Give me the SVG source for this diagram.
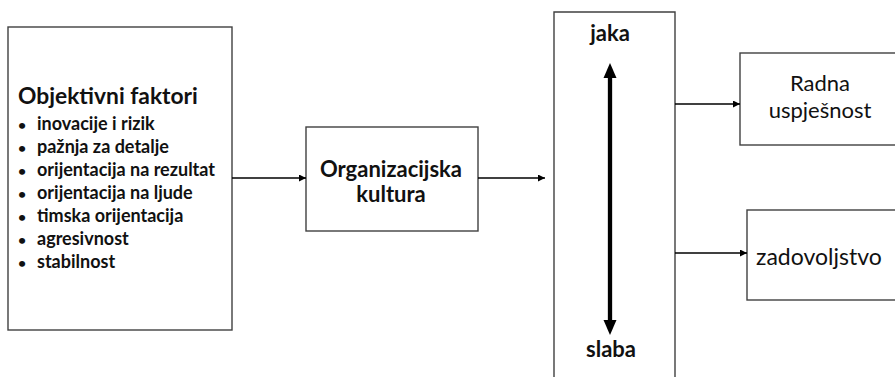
<svg xmlns="http://www.w3.org/2000/svg" width="895" height="377" viewBox="0 0 895 377">
<defs>
<style>
.box{fill:#fff;stroke:#404040;stroke-width:1.4}
.con{stroke:#000;stroke-width:1.3;fill:none}
.b{font-family:Lato,"Open Sans","Liberation Sans",sans-serif;font-weight:bold;fill:#111}
.r{font-family:Lato,"Open Sans","Liberation Sans",sans-serif;fill:#111}
</style>
<marker id="ah" viewBox="0 0 10 10" refX="10" refY="5" markerWidth="7" markerHeight="7" markerUnits="userSpaceOnUse" orient="auto">
<path d="M0,0 L10,5 L0,10 z" fill="#000"/>
</marker>
</defs>
<rect width="895" height="377" fill="#fff"/>
<g id="objektivni">
<rect class="box" x="8" y="27" width="224" height="303"/>
<text class="b" x="18" y="104" font-size="22.8">Objektivni faktori</text>
<g class="b" font-size="18">
<text x="18" y="130" font-size="14">•</text><text x="37" y="130">inovacije i rizik</text>
<text x="18" y="153" font-size="14">•</text><text x="37" y="153">pažnja za detalje</text>
<text x="18" y="176" font-size="14">•</text><text x="37" y="176">orijentacija na rezultat</text>
<text x="18" y="199" font-size="14">•</text><text x="37" y="199">orijentacija na ljude</text>
<text x="18" y="222" font-size="14">•</text><text x="37" y="222">timska orijentacija</text>
<text x="18" y="245" font-size="14">•</text><text x="37" y="245">agresivnost</text>
<text x="18" y="268" font-size="14">•</text><text x="37" y="268">stabilnost</text>
</g>
</g>
<g id="kultura">
<rect class="box" x="306" y="127" width="172" height="104"/>
<text class="b" x="391" y="177" font-size="22" text-anchor="middle">Organizacijska</text>
<text class="b" x="391" y="202" font-size="22" text-anchor="middle">kultura</text>
</g>
<g id="jacina">
<path class="box" d="M554,380 V12 H675 V380"/>
<text class="b" x="610" y="41" font-size="22" text-anchor="middle">jaka</text>
<text class="b" x="611" y="357" font-size="22" text-anchor="middle">slaba</text>
<line x1="610" y1="74" x2="610" y2="324" stroke="#000" stroke-width="4.3"/>
<path d="M610,63 L616.5,78 L603.5,78 z" fill="#000"/>
<path d="M610,335 L616.5,320 L603.5,320 z" fill="#000"/>
</g>
<g id="uspjesnost">
<rect class="box" x="740" y="53" width="170" height="92"/>
<text class="r" x="820" y="91" font-size="22" text-anchor="middle">Radna</text>
<text class="r" x="820" y="118" font-size="22" text-anchor="middle">uspješnost</text>
</g>
<g id="zadovoljstvo">
<rect class="box" x="747" y="210" width="170" height="90"/>
<text class="r" x="756" y="265" font-size="23">zadovoljstvo</text>
</g>
<g id="connectors">
<line class="con" x1="232" y1="178" x2="306" y2="178" marker-end="url(#ah)"/>
<line class="con" x1="478" y1="178" x2="545" y2="178" marker-end="url(#ah)"/>
<line class="con" x1="675" y1="104" x2="740" y2="104" marker-end="url(#ah)"/>
<line class="con" x1="675" y1="253" x2="747" y2="253" marker-end="url(#ah)"/>
</g>
</svg>
